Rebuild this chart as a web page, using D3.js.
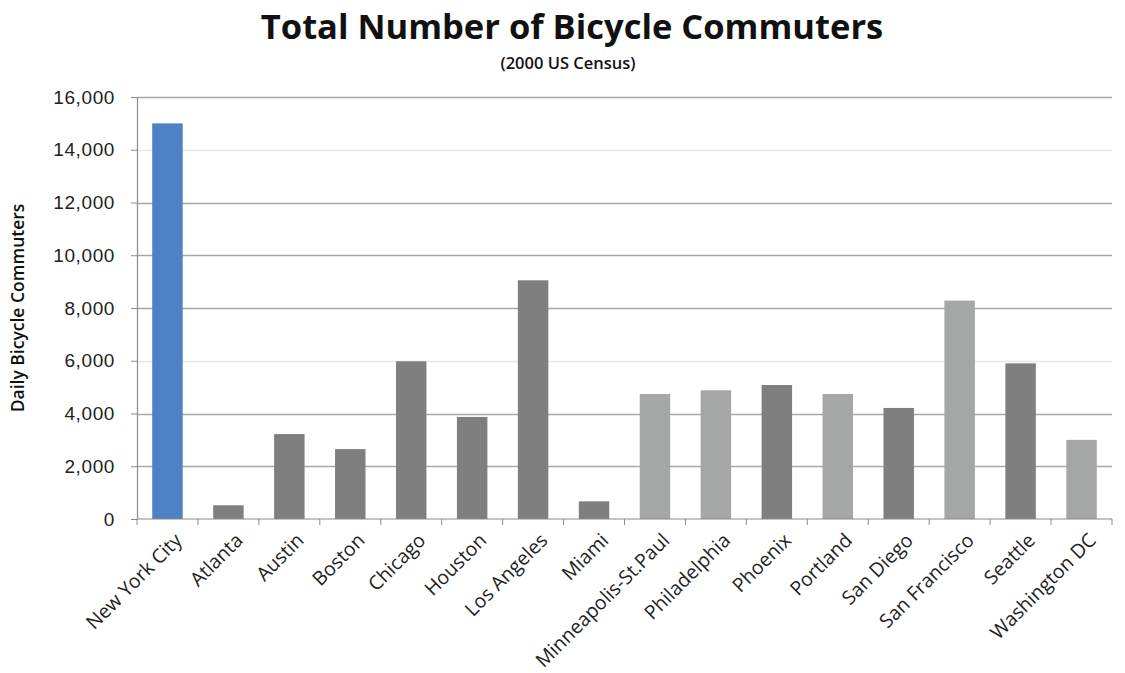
<!DOCTYPE html>
<html>
<head>
<meta charset="utf-8">
<script src="https://cdn.jsdelivr.net/npm/d3@7"></script>
<style>
  body { margin: 0; background: #fff; }
  svg { font-family: "Open Sans", "Noto Sans", sans-serif; }
</style>
</head>
<body>
<div id="chart"></div>
<script>
// data
const cities = ['New York City','Atlanta','Austin','Boston','Chicago','Houston','Los Angeles','Miami',
  'Minneapolis-St.Paul','Philadelphia','Phoenix','Portland','San Diego','San Francisco','Seattle','Washington DC'];
const commuters = [15000, 520, 3220, 2650, 5980, 3870, 9050, 670, 4740, 4880, 5080, 4740, 4210, 8280, 5900, 3000];
const shade = ['blue','dark','dark','dark','dark','dark','dark','dark','light','light','dark','light','dark','light','dark','light'];
const yTicks = [0, 2000, 4000, 6000, 8000, 10000, 12000, 14000, 16000];

const W = 1125, H = 673;
const m = {top: 97, right: 13, bottom: 154, left: 137};

const colors = {blue: '#4f81c6', dark: '#7f7f7f', light: '#a5a6a6'};

const svg = d3.select('#chart').append('svg').attr('width', W).attr('height', H);

const x = d3.scaleBand().domain(cities).range([m.left, W - m.right]).paddingInner(0.5).paddingOuter(0.25);
const y = d3.scaleLinear().domain([0, 16000]).range([H - m.bottom, m.top]);

// gridlines (some print lighter in the source)
svg.append('g').selectAll('line').data(yTicks.filter(d => d > 0)).join('line')
  .attr('x1', m.left).attr('x2', W - m.right)
  .attr('y1', d => Math.round(y(d)) + 0.5).attr('y2', d => Math.round(y(d)) + 0.5)
  .attr('stroke', d => (d === 14000 || d === 6000) ? '#e8e8e8' : '#a8a8a8')
  .attr('stroke-width', 1.5);

// bars
svg.append('g').selectAll('rect').data(cities).join('rect')
  .attr('x', d => x(d))
  .attr('width', x.bandwidth())
  .attr('y', (d, i) => y(commuters[i]))
  .attr('height', (d, i) => y(0) - y(commuters[i]))
  .attr('fill', (d, i) => colors[shade[i]]);

// y axis
const yAxis = svg.append('g').attr('transform', `translate(${m.left},0)`)
  .call(d3.axisLeft(y).tickValues(yTicks).tickFormat(d3.format(',')).tickSize(6).tickPadding(16));
yAxis.select('.domain').attr('stroke', '#8a8a8a').attr('stroke-width', 1.2);
yAxis.selectAll('.tick line').attr('stroke', '#8a8a8a');
yAxis.selectAll('text').attr('font-size', 19).attr('letter-spacing', 0.6).attr('fill', '#222');

// x axis: ticks sit between categories
const step = x.step();
const bounds = d3.range(cities.length + 1).map(i => m.left + i * step);
svg.append('line')
  .attr('x1', m.left).attr('x2', W - m.right)
  .attr('y1', y(0)).attr('y2', y(0))
  .attr('stroke', '#8a8a8a').attr('stroke-width', 1.2);
svg.append('g').selectAll('line').data(bounds).join('line')
  .attr('x1', d => d).attr('x2', d => d)
  .attr('y1', y(0)).attr('y2', y(0) + 6)
  .attr('stroke', '#8a8a8a');

svg.append('g').selectAll('text').data(cities).join('text')
  .attr('transform', d => `translate(${x(d) + x.bandwidth() / 2 + 6},${y(0) + 13}) rotate(-45)`)
  .attr('text-anchor', 'end')
  .attr('dy', '0.7em')
  .attr('font-size', 19.5)
  .attr('fill', '#222')
  .text(d => d);

// titles
svg.append('text').attr('x', 572).attr('y', 39).attr('text-anchor', 'middle')
  .attr('font-size', 34.5).attr('font-weight', 'bold').attr('fill', '#111')
  .text('Total Number of Bicycle Commuters');
svg.append('text').attr('x', 568).attr('y', 69).attr('text-anchor', 'middle')
  .attr('font-size', 16.5).attr('font-weight', 600).attr('fill', '#111')
  .text('(2000 US Census)');
svg.append('text')
  .attr('transform', `translate(24,${(m.top + H - m.bottom) / 2}) rotate(-90)`)
  .attr('text-anchor', 'middle')
  .attr('font-size', 17.5).attr('font-weight', 600).attr('fill', '#111')
  .text('Daily Bicycle Commuters');
</script>
</body>
</html>
